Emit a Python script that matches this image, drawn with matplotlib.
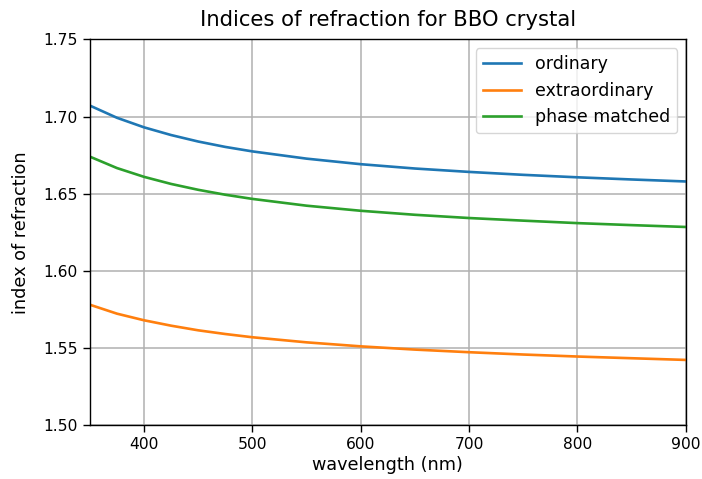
import numpy as np
import matplotlib.pyplot as plt

# values
wavelength = [350, 375, 400, 425, 450, 475, 500, 550, 600, 650, 700, 750, 800, 850, 900]
n_ordinary = [1.7071, 1.6992, 1.6930, 1.6880, 1.6838, 1.6803, 1.6774, 1.6727, 1.6691, 1.6663, 1.6641, 1.6622, 1.6606, 1.6592, 1.6579]
n_extraordinary = [1.5780, 1.5722, 1.5679, 1.5644, 1.5614, 1.5590, 1.5569, 1.5536, 1.5510, 1.5489, 1.5472, 1.5457, 1.5444, 1.5433, 1.5422]
n_phase = [1.6740, 1.6666, 1.6609, 1.6563, 1.6525, 1.6493, 1.6466, 1.6422, 1.6389, 1.6363, 1.6342, 1.6325, 1.6309, 1.6296, 1.6284]

fig = plt.figure(figsize=(7.02, 4.79), dpi=100)
ax = fig.add_axes([0.128, 0.1127, 0.849, 0.805])

ax.plot(wavelength, n_ordinary, label='ordinary', lw=1.9)
ax.plot(wavelength, n_extraordinary, label='extraordinary', lw=1.9)
ax.plot(wavelength, n_phase, label='phase matched', lw=1.9)

ax.set_xlim(350, 900)
ax.set_ylim(1.5, 1.75)
ax.set_yticks([1.50, 1.55, 1.60, 1.65, 1.70, 1.75])
ax.set_xticks([400, 500, 600, 700, 800, 900])
ax.tick_params(labelsize=11.2, length=5, width=1.0)
for s in ax.spines.values():
    s.set_linewidth(1.0)
ax.grid(True, lw=1.1)
ax.set_xlabel('wavelength (nm)', fontsize=12.7, labelpad=3)
ax.set_ylabel('index of refraction', fontsize=12.7, labelpad=10)
ax.set_title('Indices of refraction for BBO crystal', fontsize=15.2, pad=10)
ax.legend(loc='upper right', fontsize=12.5, handlelength=2.2)

fig.savefig('out.png', dpi=100)
